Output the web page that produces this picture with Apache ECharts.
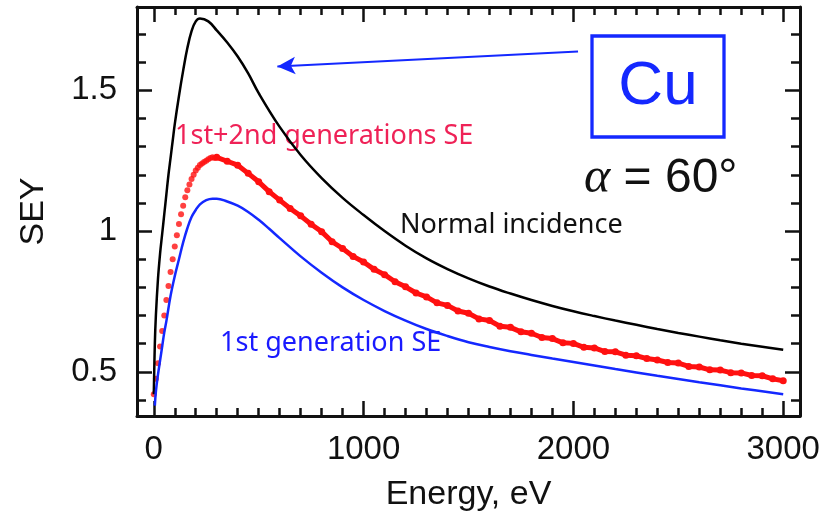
<!DOCTYPE html>
<html>
<head>
<meta charset="utf-8">
<script src="https://cdn.jsdelivr.net/npm/echarts@6.0.0/dist/echarts.min.js"></script>
<style>
  html, body { margin: 0; padding: 0; background: #fff; }
  #chart { width: 838px; height: 520px; }
</style>
</head>
<body>
<div id="chart"></div>
<script>
// normal incidence (black)
const normalE   = [0, 5, 10, 20, 30, 40, 50, 60, 70, 80, 90, 100, 120, 140, 160, 180, 200, 220, 260, 300, 350, 400, 450, 500, 600, 700, 800, 900, 1000, 1100, 1200, 1300, 1400, 1500, 1600, 1700, 1800, 1900, 2000, 2100, 2200, 2300, 2400, 2500, 2600, 2700, 2800, 2900, 3000];
const normalSEY = [0.42, 0.60, 0.70, 0.83, 0.92, 0.99, 1.06, 1.13, 1.20, 1.26, 1.32, 1.38, 1.48, 1.57, 1.65, 1.71, 1.745, 1.755, 1.745, 1.713, 1.67, 1.62, 1.56, 1.49, 1.37, 1.27, 1.188, 1.118, 1.057, 1.0, 0.948, 0.903, 0.865, 0.832, 0.803, 0.778, 0.755, 0.734, 0.715, 0.698, 0.682, 0.667, 0.652, 0.638, 0.625, 0.612, 0.60, 0.589, 0.578];

// 1st generation SE (blue)
const firstE   = [5, 10, 20, 30, 40, 50, 60, 80, 100, 120, 140, 160, 180, 200, 220, 250, 280, 300, 350, 400, 450, 500, 550, 600, 700, 800, 900, 1000, 1100, 1200, 1300, 1400, 1500, 1600, 1700, 1800, 1900, 2000, 2200, 2400, 2600, 2800, 3000];
const firstSEY = [0.38, 0.43, 0.49, 0.54, 0.59, 0.64, 0.68, 0.77, 0.84, 0.90, 0.96, 1.01, 1.05, 1.075, 1.095, 1.11, 1.115, 1.115, 1.105, 1.09, 1.068, 1.04, 1.008, 0.975, 0.91, 0.852, 0.80, 0.755, 0.716, 0.682, 0.652, 0.627, 0.605, 0.588, 0.573, 0.56, 0.547, 0.535, 0.51, 0.486, 0.463, 0.441, 0.42];

// 1st+2nd generations SE (red measured points)
const sparseE   = [0, 10, 20, 30, 40, 50, 60, 70, 80, 90, 100, 110, 120, 130, 140, 150, 160, 170, 180, 190, 200, 210, 220, 230, 240, 250, 260, 270, 280, 290];
const sparseSEY = [0.42, 0.475, 0.53, 0.59, 0.645, 0.70, 0.755, 0.805, 0.855, 0.90, 0.945, 0.985, 1.025, 1.06, 1.09, 1.12, 1.145, 1.165, 1.185, 1.20, 1.215, 1.225, 1.235, 1.24, 1.245, 1.25, 1.255, 1.26, 1.262, 1.26];
const denseE   = [300, 350, 400, 450, 500, 550, 600, 650, 700, 750, 800, 850, 900, 950, 1000, 1050, 1100, 1150, 1200, 1250, 1300, 1350, 1400, 1450, 1500, 1550, 1600, 1650, 1700, 1750, 1800, 1850, 1900, 1950, 2000, 2050, 2100, 2150, 2200, 2250, 2300, 2350, 2400, 2450, 2500, 2550, 2600, 2650, 2700, 2750, 2800, 2850, 2900, 2950, 3000];
const denseSEY = [1.262, 1.248, 1.234, 1.205, 1.175, 1.14, 1.11, 1.08, 1.054, 1.024, 0.998, 0.962, 0.938, 0.91, 0.89, 0.864, 0.845, 0.82, 0.802, 0.78, 0.766, 0.745, 0.736, 0.716, 0.708, 0.688, 0.682, 0.662, 0.658, 0.642, 0.637, 0.622, 0.618, 0.603, 0.601, 0.587, 0.585, 0.572, 0.571, 0.559, 0.557, 0.547, 0.542, 0.533, 0.531, 0.519, 0.517, 0.507, 0.506, 0.497, 0.496, 0.487, 0.486, 0.475, 0.468];

// arrow from the Cu label to the normal incidence curve (data coords)
const arrowFrom = [2022, 1.638];
const arrowTo   = [589, 1.585];

const xMin = -80, xMax = 3080;
const yMin = 0.343, yMax = 1.796;

const pair = (xs, ys) => xs.map((x, i) => [x, ys[i]]);

const FONT = 'Liberation Sans';
const LABEL_FONT = 'Noto Sans';
const INK = '#111';
const BLUE = '#1428ff';
const RED = '#ff1010';

const frameAxis = {
  axisLine: { show: true, onZero: false, lineStyle: { color: INK, width: 3 } },
  axisTick: { show: true, inside: true, length: 15, lineStyle: { color: INK, width: 2.5 } },
  minorTick: { show: true, length: 8, lineStyle: { color: INK, width: 2.5 } },
  splitLine: { show: false },
  minorSplitLine: { show: false }
};

const chart = echarts.init(document.getElementById('chart'), null, { renderer: 'canvas' });

chart.setOption({
  animation: false,
  backgroundColor: '#fff',
  grid: { left: 137, right: 38, top: 7, bottom: 104, containLabel: false },
  xAxis: [
    {
      ...frameAxis, type: 'value', position: 'bottom', min: xMin, max: xMax, splitNumber: 3,
      minorTick: { ...frameAxis.minorTick, splitNumber: 10 },
      axisLabel: {
        show: true, margin: 17, fontSize: 33, fontFamily: FONT, color: INK,
        showMinLabel: false, showMaxLabel: false, formatter: v => String(v)
      },
      name: 'Energy, eV', nameLocation: 'middle', nameGap: 62,
      nameTextStyle: { fontSize: 34, fontFamily: FONT, color: INK }
    },
    {
      ...frameAxis, type: 'value', position: 'top', min: xMin, max: xMax, splitNumber: 3,
      minorTick: { ...frameAxis.minorTick, splitNumber: 10 },
      axisLabel: { show: false }
    }
  ],
  yAxis: [
    {
      ...frameAxis, type: 'value', position: 'left', min: yMin, max: yMax, splitNumber: 3,
      minorTick: { ...frameAxis.minorTick, splitNumber: 5, length: 9 },
      axisLabel: {
        show: true, margin: 20, fontSize: 33, fontFamily: FONT, color: INK,
        showMinLabel: false, showMaxLabel: false, formatter: v => String(v)
      },
      name: 'SEY', nameLocation: 'middle', nameGap: 86,
      nameTextStyle: { fontSize: 34, fontFamily: FONT, color: INK }
    },
    {
      ...frameAxis, type: 'value', position: 'right', min: yMin, max: yMax, splitNumber: 3,
      minorTick: { ...frameAxis.minorTick, splitNumber: 5, length: 9 },
      axisLabel: { show: false }
    }
  ],
  series: [
    {
      name: 'Normal incidence', type: 'line', data: pair(normalE, normalSEY),
      smooth: 0.4, showSymbol: false, lineStyle: { color: '#000', width: 2.5 },
      markLine: {
        silent: true, symbol: ['none', 'arrow'], symbolSize: [13, 18],
        label: { show: false },
        lineStyle: { color: BLUE, width: 2, type: 'solid' },
        data: [[{ coord: arrowFrom }, { coord: arrowTo }]]
      }
    },
    {
      name: '1st generation SE', type: 'line', data: pair(firstE, firstSEY),
      smooth: 0.4, showSymbol: false, lineStyle: { color: BLUE, width: 2.5 }
    },
    {
      name: '1st+2nd generations SE', type: 'scatter', data: pair(sparseE, sparseSEY),
      symbol: 'circle', symbolSize: 6, itemStyle: { color: RED }
    },
    {
      name: '1st+2nd generations SE (dense)', type: 'line', data: pair(denseE, denseSEY),
      symbol: 'circle', symbolSize: 7, showSymbol: true,
      itemStyle: { color: RED }, lineStyle: { color: RED, width: 5 }
    }
  ],
  graphic: [
    { type: 'text', left: 175, top: 123, style: { text: '1st+2nd generations SE', fontSize: 27, fontFamily: LABEL_FONT, fill: '#ef2257' } },
    { type: 'text', left: 400, top: 212, style: { text: 'Normal incidence', fontSize: 27, fontFamily: LABEL_FONT, fill: INK } },
    { type: 'text', left: 220, top: 330, style: { text: '1st generation SE', fontSize: 27, fontFamily: LABEL_FONT, fill: '#1a1aff' } },
    { type: 'rect', shape: { x: 592, y: 36, width: 132, height: 101 }, style: { fill: 'none', stroke: BLUE, lineWidth: 3.3 } },
    { type: 'text', x: 658, y: 87, style: { text: 'Cu', fontSize: 62, fontFamily: FONT, fill: BLUE, align: 'center', verticalAlign: 'middle' } },
    {
      type: 'text', left: 584, top: 154,
      style: {
        text: '{a|α} = 60°', fontSize: 48, fontFamily: FONT, fill: INK,
        rich: { a: { fontSize: 50, fontFamily: 'Liberation Serif', fontStyle: 'italic', fill: INK } }
      }
    }
  ]
});
</script>
</body>
</html>
